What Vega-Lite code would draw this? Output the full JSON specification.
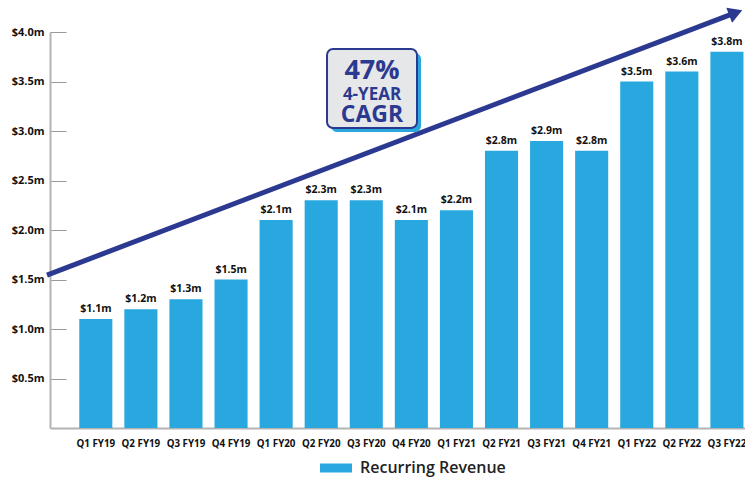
{
  "$schema": "https://vega.github.io/schema/vega-lite/v6.json",
  "width": 695,
  "height": 396,
  "autosize": "none",
  "padding": {"left": 50, "top": 32, "right": 0, "bottom": 49},
  "background": "white",
  "config": {
    "font": "Open Sans",
    "view": {"stroke": null}
  },
  "data": {
    "values": [
      {"quarter": "Q1 FY19", "value": 1.1},
      {"quarter": "Q2 FY19", "value": 1.2},
      {"quarter": "Q3 FY19", "value": 1.3},
      {"quarter": "Q4 FY19", "value": 1.5},
      {"quarter": "Q1 FY20", "value": 2.1},
      {"quarter": "Q2 FY20", "value": 2.3},
      {"quarter": "Q3 FY20", "value": 2.3},
      {"quarter": "Q4 FY20", "value": 2.1},
      {"quarter": "Q1 FY21", "value": 2.2},
      {"quarter": "Q2 FY21", "value": 2.8},
      {"quarter": "Q3 FY21", "value": 2.9},
      {"quarter": "Q4 FY21", "value": 2.8},
      {"quarter": "Q1 FY22", "value": 3.5},
      {"quarter": "Q2 FY22", "value": 3.6},
      {"quarter": "Q3 FY22", "value": 3.8}
    ]
  },
  "resolve": {"scale": {"x": "independent"}},
  "layer": [
    {
      "mark": {"type": "bar"},
      "encoding": {
        "x": {
          "field": "quarter", "type": "nominal", "sort": null,
          "scale": {"type": "band", "paddingInner": 0.266, "paddingOuter": 0.3416, "align": 0.95},
          "axis": {
            "title": null, "labelAngle": 0, "ticks": false,
            "labelFont": "Open Sans", "labelFontWeight": "bold", "labelFontSize": 9.8,
            "labelColor": "#111", "labelPadding": 10,
            "domainColor": "#b3b3b3", "domainWidth": 2
          }
        },
        "y": {
          "field": "value", "type": "quantitative",
          "scale": {"domain": [0, 4], "nice": false},
          "axis": {
            "title": null, "grid": false,
            "values": [0.5, 1, 1.5, 2, 2.5, 3, 3.5, 4],
            "labelExpr": "'$' + format(datum.value, '.1f') + 'm'",
            "labelFont": "Open Sans", "labelFontWeight": "bold", "labelFontSize": 11,
            "labelColor": "#111",
            "tickSize": -16, "tickColor": "#999", "tickWidth": 1,
            "labelPadding": 22,
            "domainColor": "#b3b3b3", "domainWidth": 2
          }
        },
        "color": {
          "datum": "Recurring Revenue", "type": "nominal",
          "scale": {"range": ["#29a8e0"]},
          "legend": {
            "title": null, "orient": "none", "legendX": 276, "legendY": 426,
            "padding": 0,
            "symbolType": "M-1.6,-0.45H1.6V0.45H-1.6Z", "symbolSize": 400,
            "symbolStrokeWidth": 0, "symbolOpacity": 1,
            "labelFont": "Open Sans", "labelFontSize": 16, "labelFontWeight": 600,
            "labelColor": "#222", "labelOffset": 14
          }
        }
      }
    },
    {
      "transform": [{"calculate": "'$' + format(datum.value, '.1f') + 'm'", "as": "label"}],
      "mark": {"type": "text", "baseline": "alphabetic", "align": "center", "dy": -7, "font": "Open Sans", "fontWeight": "bold", "fontSize": 10.5, "color": "#111"},
      "encoding": {
        "x": {"field": "quarter", "type": "nominal", "sort": null,
          "scale": {"type": "band", "paddingInner": 0.266, "paddingOuter": 0.3416, "align": 0.95}, "axis": null},
        "y": {"field": "value", "type": "quantitative"},
        "text": {"field": "label"}
      }
    },
    {
      "data": {"values": [{}]},
      "mark": {"type": "rule", "color": "#2b3990", "strokeWidth": 5, "clip": false},
      "encoding": {
        "x": {"datum": -0.065, "type": "quantitative", "scale": {"domain": [0, 15], "nice": false, "zero": false}, "axis": null},
        "y": {"datum": 1.545, "type": "quantitative"},
        "x2": {"datum": 14.8},
        "y2": {"datum": 4.195}
      }
    },
    {
      "data": {"values": [{}]},
      "mark": {"type": "point", "shape": "triangle-right", "filled": true, "color": "#2b3990", "size": 260, "angle": -20.8, "opacity": 1, "clip": false},
      "encoding": {
        "x": {"datum": 14.8, "type": "quantitative", "scale": {"domain": [0, 15], "nice": false, "zero": false}, "axis": null},
        "y": {"datum": 4.195, "type": "quantitative"}
      }
    },
    {
      "data": {"values": [{}]},
      "mark": {"type": "rect", "fill": "#29a8e0", "cornerRadius": 6, "xOffset": 4, "x2Offset": 4, "yOffset": 4, "y2Offset": 4},
      "encoding": {
        "x": {"datum": 5.979, "type": "quantitative", "scale": {"domain": [0, 15], "nice": false, "zero": false}, "axis": null},
        "x2": {"datum": 7.921},
        "y": {"datum": 3.828, "type": "quantitative"},
        "y2": {"datum": 3.03}
      }
    },
    {
      "data": {"values": [{}]},
      "mark": {"type": "rect", "fill": "#e6e7e8", "stroke": "#2b3990", "strokeWidth": 2, "cornerRadius": 6},
      "encoding": {
        "x": {"datum": 5.979, "type": "quantitative", "scale": {"domain": [0, 15], "nice": false, "zero": false}, "axis": null},
        "x2": {"datum": 7.921},
        "y": {"datum": 3.828, "type": "quantitative"},
        "y2": {"datum": 3.03}
      }
    },
    {
      "data": {"values": [{"t": "47%"}]},
      "mark": {"type": "text", "baseline": "alphabetic", "align": "center", "font": "Open Sans", "fontWeight": "bold", "fontSize": 27, "color": "#2b3990"},
      "encoding": {
        "x": {"datum": 6.95, "type": "quantitative", "scale": {"domain": [0, 15], "nice": false, "zero": false}, "axis": null},
        "y": {"datum": 3.525, "type": "quantitative"},
        "text": {"field": "t"}
      }
    },
    {
      "data": {"values": [{"t": "4-YEAR"}]},
      "mark": {"type": "text", "baseline": "alphabetic", "align": "center", "font": "Open Sans", "fontWeight": "bold", "fontSize": 17, "color": "#2b3990"},
      "encoding": {
        "x": {"datum": 6.95, "type": "quantitative", "scale": {"domain": [0, 15], "nice": false, "zero": false}, "axis": null},
        "y": {"datum": 3.313, "type": "quantitative"},
        "text": {"field": "t"}
      }
    },
    {
      "data": {"values": [{"t": "CAGR"}]},
      "mark": {"type": "text", "baseline": "alphabetic", "align": "center", "font": "Open Sans", "fontWeight": "bold", "fontSize": 23, "color": "#2b3990"},
      "encoding": {
        "x": {"datum": 6.95, "type": "quantitative", "scale": {"domain": [0, 15], "nice": false, "zero": false}, "axis": null},
        "y": {"datum": 3.091, "type": "quantitative"},
        "text": {"field": "t"}
      }
    }
  ]
}
